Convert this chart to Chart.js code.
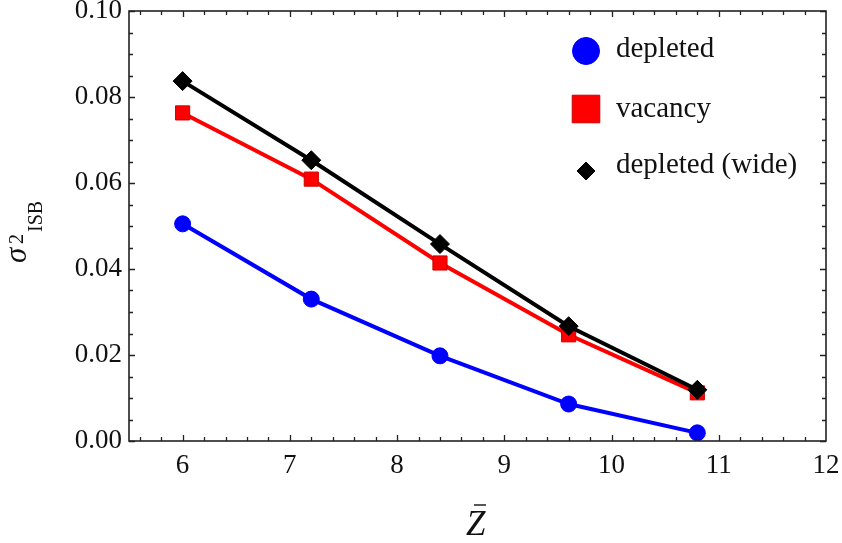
<!DOCTYPE html>
<html>
<head>
<meta charset="utf-8">
<script src="https://cdn.jsdelivr.net/npm/chart.js@4.4.1/dist/chart.umd.min.js"></script>
<style>
  html, body { margin: 0; padding: 0; background: #fff; }
  #wrap { width: 842px; height: 543px; }
</style>
</head>
<body>
<div id="wrap"><canvas id="c" width="842" height="543"></canvas></div>
<script>
// Mean charge Z-bar at which the ISB variance was evaluated
const zBar = [6, 7.2, 8.4, 9.6, 10.8];

// sigma^2_ISB for each configuration
const depleted     = [0.0505, 0.0330, 0.0198, 0.0086, 0.0019];
const vacancy      = [0.0763, 0.0609, 0.0414, 0.0247, 0.0112];
const depletedWide = [0.0837, 0.0653, 0.0458, 0.0267, 0.0119];

const seriesLabels = ['depleted', 'vacancy', 'depleted (wide)'];

// Axis tick values
const xTicks = [6, 7, 8, 9, 10, 11, 12];
const yTicks = [0.00, 0.02, 0.04, 0.06, 0.08, 0.10];

const SERIF = '"Liberation Serif", "DejaVu Serif", serif';

function pts(ys) { return zBar.map((x, i) => ({ x: x, y: ys[i] })); }

// Inward major/minor ticks on all four sides plus the frame
const framePlugin = {
  id: 'frame',
  afterDatasetsDraw(chart) {
    const { ctx, chartArea: a, scales: { x, y } } = chart;
    ctx.save();
    ctx.strokeStyle = '#222';
    ctx.lineWidth = 1.3;
    const major = 6, minor = 4;
    for (let k = 1; k <= 32; k++) {
      const v = 5.5 + k * 0.2 - 0.1;
      const isMajor = Math.abs(v - Math.round(v)) < 1e-6;
      const px = Math.round(x.getPixelForValue(v)) + 0.5;
      const len = isMajor ? major : minor;
      ctx.beginPath();
      ctx.moveTo(px, a.bottom); ctx.lineTo(px, a.bottom - len);
      ctx.moveTo(px, a.top); ctx.lineTo(px, a.top + len);
      ctx.stroke();
    }
    for (let k = 0; k <= 20; k++) {
      const v = k * 0.005;
      const isMajor = k % 4 === 0;
      const py = Math.round(y.getPixelForValue(v)) + 0.5;
      const len = isMajor ? major : minor;
      ctx.beginPath();
      ctx.moveTo(a.left, py); ctx.lineTo(a.left + len, py);
      ctx.moveTo(a.right, py); ctx.lineTo(a.right - len, py);
      ctx.stroke();
    }
    ctx.lineWidth = 1.6;
    ctx.strokeRect(a.left, a.top, a.right - a.left, a.bottom - a.top);
    ctx.restore();
  }
};

// Legend inside the plot, top right
const legendPlugin = {
  id: 'innerLegend',
  afterDraw(chart) {
    const { ctx, chartArea: a } = chart;
    const x0 = a.right - 240, textX = a.right - 210;
    const rows = [
      { y: a.top + 40, base: a.top + 46, style: 'circle', r: 13.5 },
      { y: a.top + 98, base: a.top + 106, style: 'rect', r: 19.5 },
      { y: a.top + 160, base: a.top + 162, style: 'rectRot', r: 9 }
    ];
    ctx.save();
    rows.forEach((row, i) => {
      const ds = chart.data.datasets[i];
      ctx.fillStyle = ds.pointBackgroundColor;
      ctx.strokeStyle = ds.pointBorderColor;
      ctx.lineWidth = 1;
      Chart.helpers.drawPoint(ctx, { pointStyle: row.style, radius: row.r, borderWidth: 1, rotation: 0 }, x0, row.y);
      ctx.fillStyle = '#111';
      ctx.font = '29px ' + SERIF;
      ctx.textBaseline = 'alphabetic';
      ctx.textAlign = 'left';
      ctx.fillText(seriesLabels[i], textX, row.base);
    });
    ctx.restore();
  }
};

// Axis titles: italic sigma with superscript 2 and subscript ISB, and Z with a bar
const titlePlugin = {
  id: 'axisTitles',
  afterDraw(chart) {
    const { ctx } = chart;
    ctx.save();
    ctx.fillStyle = '#111';
    ctx.strokeStyle = '#111';
    // x title
    ctx.font = 'italic 35px ' + SERIF;
    ctx.textAlign = 'left';
    ctx.textBaseline = 'alphabetic';
    ctx.fillText('Z', 466, 535);
    ctx.lineWidth = 1.4;
    ctx.beginPath();
    ctx.moveTo(474, 505); ctx.lineTo(486, 505);
    ctx.stroke();
    // y title, rotated
    ctx.translate(26, 263);
    ctx.rotate(-Math.PI / 2);
    ctx.font = 'italic 31px ' + SERIF;
    ctx.fillText('\u03C3', 0, 0);
    ctx.font = '20px ' + SERIF;
    ctx.fillText('2', 19, -3);
    ctx.fillText('ISB', 31, 16);
    ctx.restore();
  }
};

const common = { showLine: true, borderWidth: 4, pointBorderWidth: 1, pointHoverRadius: 8 };

new Chart(document.getElementById('c'), {
  type: 'scatter',
  data: {
    datasets: [
      Object.assign({}, common, {
        label: seriesLabels[0], data: pts(depleted), order: 2,
        borderColor: '#0000ff', backgroundColor: '#0000ff',
        pointBackgroundColor: '#0000ff', pointBorderColor: '#0000ff',
        pointStyle: 'circle', pointRadius: 8
      }),
      Object.assign({}, common, {
        label: seriesLabels[1], data: pts(vacancy), order: 1,
        borderColor: '#ff0000', backgroundColor: '#ff0000',
        pointBackgroundColor: '#ff0000', pointBorderColor: '#cc0000',
        pointStyle: 'rect', pointRadius: 10
      }),
      Object.assign({}, common, {
        label: seriesLabels[2], data: pts(depletedWide), order: 0,
        borderColor: '#000000', backgroundColor: '#000000',
        pointBackgroundColor: '#000000', pointBorderColor: '#000000',
        pointStyle: 'rectRot', pointRadius: 9.5
      })
    ]
  },
  options: {
    responsive: false,
    animation: false,
    layout: { padding: { left: 0, top: 11, right: 16, bottom: 0 } },
    plugins: { legend: { display: false }, tooltip: { enabled: false } },
    scales: {
      x: {
        type: 'linear', min: 5.5, max: 12,
        afterBuildTicks(s) { s.ticks = xTicks.map(v => ({ value: v })); },
        afterFit(s) { s.height = 102; s.paddingLeft = 0; s.paddingRight = 0; },
        grid: { display: false, drawTicks: false }, border: { display: false },
        ticks: { color: '#111', padding: 9, maxRotation: 0,
                 font: { family: SERIF, size: 27 },
                 callback: v => String(v) }
      },
      y: {
        type: 'linear', min: 0, max: 0.1,
        afterBuildTicks(s) { s.ticks = yTicks.map(v => ({ value: v })); },
        afterFit(s) { s.width = 129; s.paddingTop = 0; s.paddingBottom = 0; },
        grid: { display: false, drawTicks: false }, border: { display: false },
        ticks: { color: '#111', padding: 7,
                 font: { family: SERIF, size: 27 },
                 callback: v => Number(v).toFixed(2) }
      }
    }
  },
  plugins: [framePlugin, legendPlugin, titlePlugin]
});
</script>
</body>
</html>
